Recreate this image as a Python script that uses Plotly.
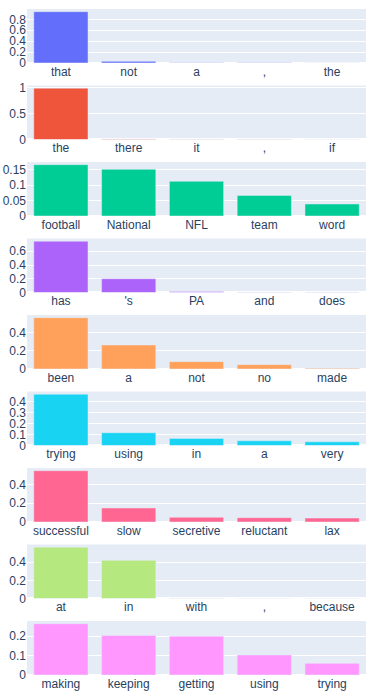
import plotly.graph_objs as go
from plotly.subplots import make_subplots

# words and scores for each panel
words1 = ['that', 'not', 'a', ',', 'the']
vals1 = [0.94, 0.03, 0.005, 0.003, 0.002]
words2 = ['the', 'there', 'it', ',', 'if']
vals2 = [0.99, 0.01, 0.005, 0.004, 0.002]
words3 = ['football', 'National', 'NFL', 'team', 'word']
vals3 = [0.167, 0.152, 0.113, 0.067, 0.039]
words4 = ['has', "'s", 'PA', 'and', 'does']
vals4 = [0.747, 0.2, 0.015, 0.003, 0.002]
words5 = ['been', 'a', 'not', 'no', 'made']
vals5 = [0.56, 0.262, 0.08, 0.047, 0.007]
words6 = ['trying', 'using', 'in', 'a', 'very']
vals6 = [0.47, 0.117, 0.065, 0.043, 0.034]
words7 = ['successful', 'slow', 'secretive', 'reluctant', 'lax']
vals7 = [0.545, 0.149, 0.05, 0.046, 0.042]
words8 = ['at', 'in', 'with', ',', 'because']
vals8 = [0.565, 0.42, 0.003, 0.001, 0.0005]
words9 = ['making', 'keeping', 'getting', 'using', 'trying']
vals9 = [0.264, 0.203, 0.2, 0.103, 0.06]

colors = ['#636efa', '#EF553B', '#00cc96', '#ab63fa', '#FFA15A',
          '#19d3f3', '#FF6692', '#B6E880', '#FF97FF']

panels = [(words1, vals1), (words2, vals2), (words3, vals3),
          (words4, vals4), (words5, vals5), (words6, vals6),
          (words7, vals7), (words8, vals8), (words9, vals9)]

fig = make_subplots(rows=9, cols=1, vertical_spacing=0.0338)
for i, (w, v) in enumerate(panels):
    fig.add_trace(go.Bar(x=w, y=v, marker_color=colors[i]), row=i + 1, col=1)

fig.update_layout(
    width=376, height=696,
    showlegend=False,
    font=dict(family='Liberation Sans, Arial, sans-serif', size=12),
    margin=dict(l=27, r=10, t=9, b=21),
)
fig.update_yaxes(automargin=False)
fig.update_xaxes(automargin=False)
# drop the default 8px body margin so the figure starts at the page corner
fig.write_html("out.html", config={'displayModeBar': False},
               post_script="document.body.style.margin='0';")
